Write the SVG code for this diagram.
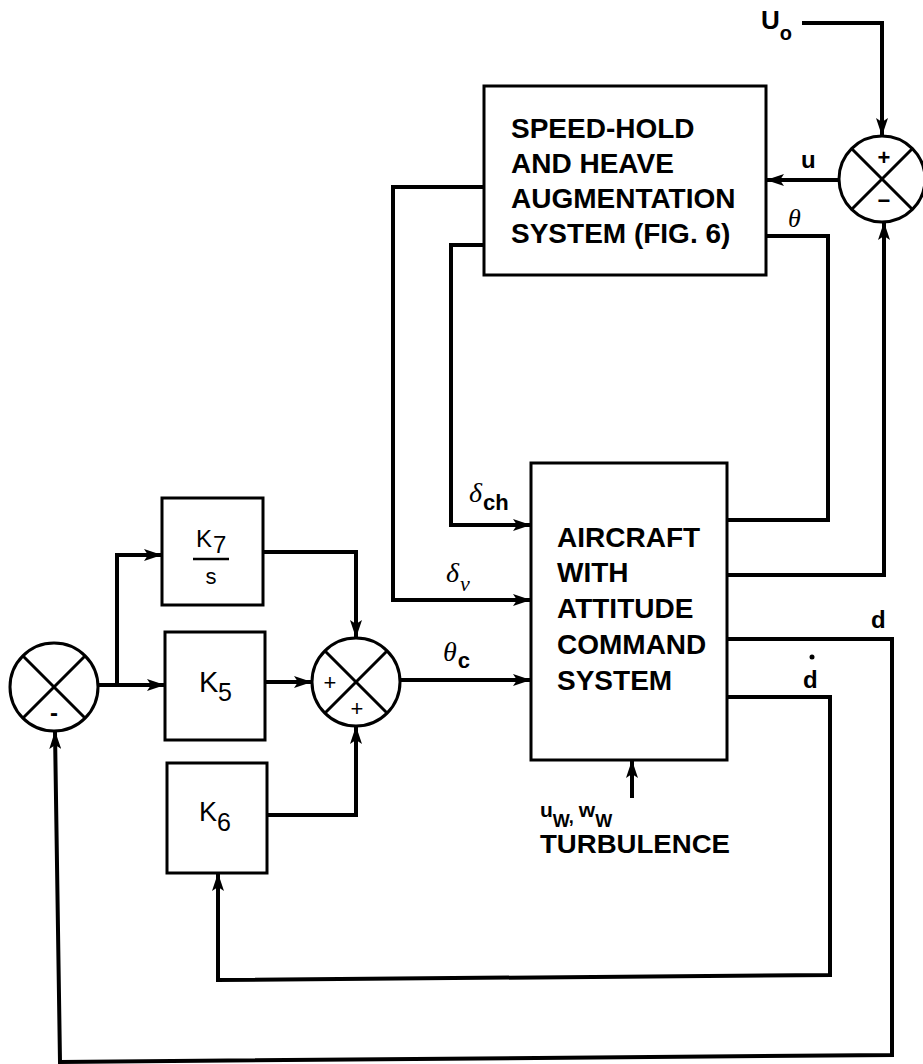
<svg xmlns="http://www.w3.org/2000/svg" width="923" height="1064" viewBox="0 0 923 1064">
<style>
.box{fill:#fff;stroke:#000;stroke-width:3}
.sum{fill:#fff;stroke:#000;stroke-width:3}
.x{stroke:#000;stroke-width:3}
.w{fill:none;stroke:#000;stroke-width:4;stroke-linejoin:miter}
.t{font-family:"Liberation Sans",Arial,sans-serif;font-weight:bold;font-size:28px;fill:#000}
.s{font-family:"Liberation Sans",Arial,sans-serif;font-weight:bold;fill:#000}
.k{font-family:"Liberation Sans",Arial,sans-serif;font-weight:normal;fill:#000}
.g{font-family:"Liberation Serif","Times New Roman",serif;font-style:italic;fill:#000}
</style>
<defs>
<marker id="ah" markerWidth="18" markerHeight="12" refX="17" refY="6" orient="auto" markerUnits="userSpaceOnUse">
<path d="M0,0 L18,6 L0,12 L4,6 Z" fill="#000"/>
</marker>
</defs>
<rect width="923" height="1064" fill="#fff"/>

<g id="connectors">
<path class="w" d="M98,685 H164" marker-end="url(#ah)"/>
<path class="w" d="M117,685 V555 H161" marker-end="url(#ah)"/>
<path class="w" d="M263,552 H356 V637" marker-end="url(#ah)"/>
<path class="w" d="M265,682 H311" marker-end="url(#ah)"/>
<path class="w" d="M267,815 H356 V727" marker-end="url(#ah)"/>
<path class="w" d="M400,680 H530" marker-end="url(#ah)"/>
<path class="w" d="M484,187 H393 V600 H530" marker-end="url(#ah)"/>
<path class="w" d="M484,245 H451 V525 H530" marker-end="url(#ah)"/>
<path class="w" d="M727,520 H828 V236 H766"/>
<path class="w" d="M727,575 H884 V223" marker-end="url(#ah)"/>
<path class="w" d="M802,23 H882 V135" marker-end="url(#ah)"/>
<path class="w" d="M839,180 H767" marker-end="url(#ah)"/>
<path class="w" d="M727,639 H892 V1055 L60,1062 L55,732" marker-end="url(#ah)"/>
<path class="w" d="M727,697 H830 V975 L218,980 V874" marker-end="url(#ah)"/>
<path class="w" d="M632,798 V761" marker-end="url(#ah)"/>
</g>

<g id="sum_left">
<circle class="sum" cx="54" cy="687" r="44"/>
<line class="x" x1="23" y1="656" x2="85" y2="718"/>
<line class="x" x1="85" y1="656" x2="23" y2="718"/>
<text class="s" x="54" y="721" font-size="24" text-anchor="middle">-</text>
</g>

<g id="k7">
<rect class="box" x="162" y="498" width="101" height="107"/>
<text class="k" x="196" y="547" font-size="24">K</text>
<text class="k" x="213" y="553" font-size="24">7</text>
<line x1="193" y1="559" x2="229" y2="559" stroke="#000" stroke-width="2.5"/>
<text class="k" x="211" y="584" font-size="22" text-anchor="middle">s</text>
</g>

<g id="k5">
<rect class="box" x="165" y="632" width="100" height="108"/>
<text class="k" x="199" y="692" font-size="29">K</text>
<text class="k" x="218" y="701" font-size="25">5</text>
</g>

<g id="k6">
<rect class="box" x="167" y="763" width="100" height="110"/>
<text class="k" x="199" y="821" font-size="27">K</text>
<text class="k" x="217" y="831" font-size="25">6</text>
</g>

<g id="sum_mid">
<circle class="sum" cx="356" cy="682" r="44"/>
<line class="x" x1="325" y1="651" x2="387" y2="713"/>
<line class="x" x1="387" y1="651" x2="325" y2="713"/>
<text class="k" x="330" y="690" font-size="22" text-anchor="middle">+</text>
<text class="k" x="357" y="716" font-size="22" text-anchor="middle">+</text>
</g>

<g id="sum_right">
<circle class="sum" cx="882" cy="179" r="43"/>
<line class="x" x1="852" y1="149" x2="912" y2="209"/>
<line class="x" x1="912" y1="149" x2="852" y2="209"/>
<text class="s" x="884" y="165" font-size="22" text-anchor="middle">+</text>
<text class="s" x="884" y="208" font-size="22" text-anchor="middle">−</text>
</g>

<g id="speed_hold">
<rect class="box" x="484" y="86" width="282" height="189"/>
<text class="t" x="511" y="138">SPEED-HOLD</text>
<text class="t" x="511" y="173">AND HEAVE</text>
<text class="t" x="511" y="208">AUGMENTATION</text>
<text class="t" x="511" y="243">SYSTEM (FIG. 6)</text>
</g>

<g id="aircraft">
<rect class="box" x="531" y="463" width="196" height="297"/>
<text class="t" x="557" y="547">AIRCRAFT</text>
<text class="t" x="557" y="582">WITH</text>
<text class="t" x="557" y="618">ATTITUDE</text>
<text class="t" x="557" y="654">COMMAND</text>
<text class="t" x="557" y="690">SYSTEM</text>
</g>

<g id="labels">
<text class="s" x="761" y="29" font-size="26">U<tspan font-size="20" dy="11">o</tspan></text>
<text class="s" x="801" y="168" font-size="24">u</text>
<text class="g" x="788" y="227" font-size="26">θ</text>
<text class="g" x="469" y="502" font-size="28">δ<tspan class="s" font-style="normal" font-size="22" dx="1" dy="8">ch</tspan></text>
<text class="g" x="446" y="582" font-size="28">δ<tspan font-size="22" dx="1" dy="9">ν</tspan></text>
<text class="g" x="443" y="661" font-size="28">θ<tspan class="s" font-style="normal" font-size="22" dx="1" dy="7">c</tspan></text>
<text class="s" x="871" y="628" font-size="24">d</text>
<text class="s" x="803" y="688" font-size="24">d</text>
<circle cx="812" cy="657" r="2.5" fill="#000"/>
<text class="s" x="540" y="817" font-size="21">u<tspan font-size="18" dy="10">W</tspan><tspan font-size="18" dy="-4">,</tspan><tspan dx="5" dy="-6">w</tspan><tspan font-size="18" dy="10">W</tspan></text>
<text class="s" x="540" y="853" font-size="25" textLength="190" lengthAdjust="spacingAndGlyphs">TURBULENCE</text>
</g>
</svg>
